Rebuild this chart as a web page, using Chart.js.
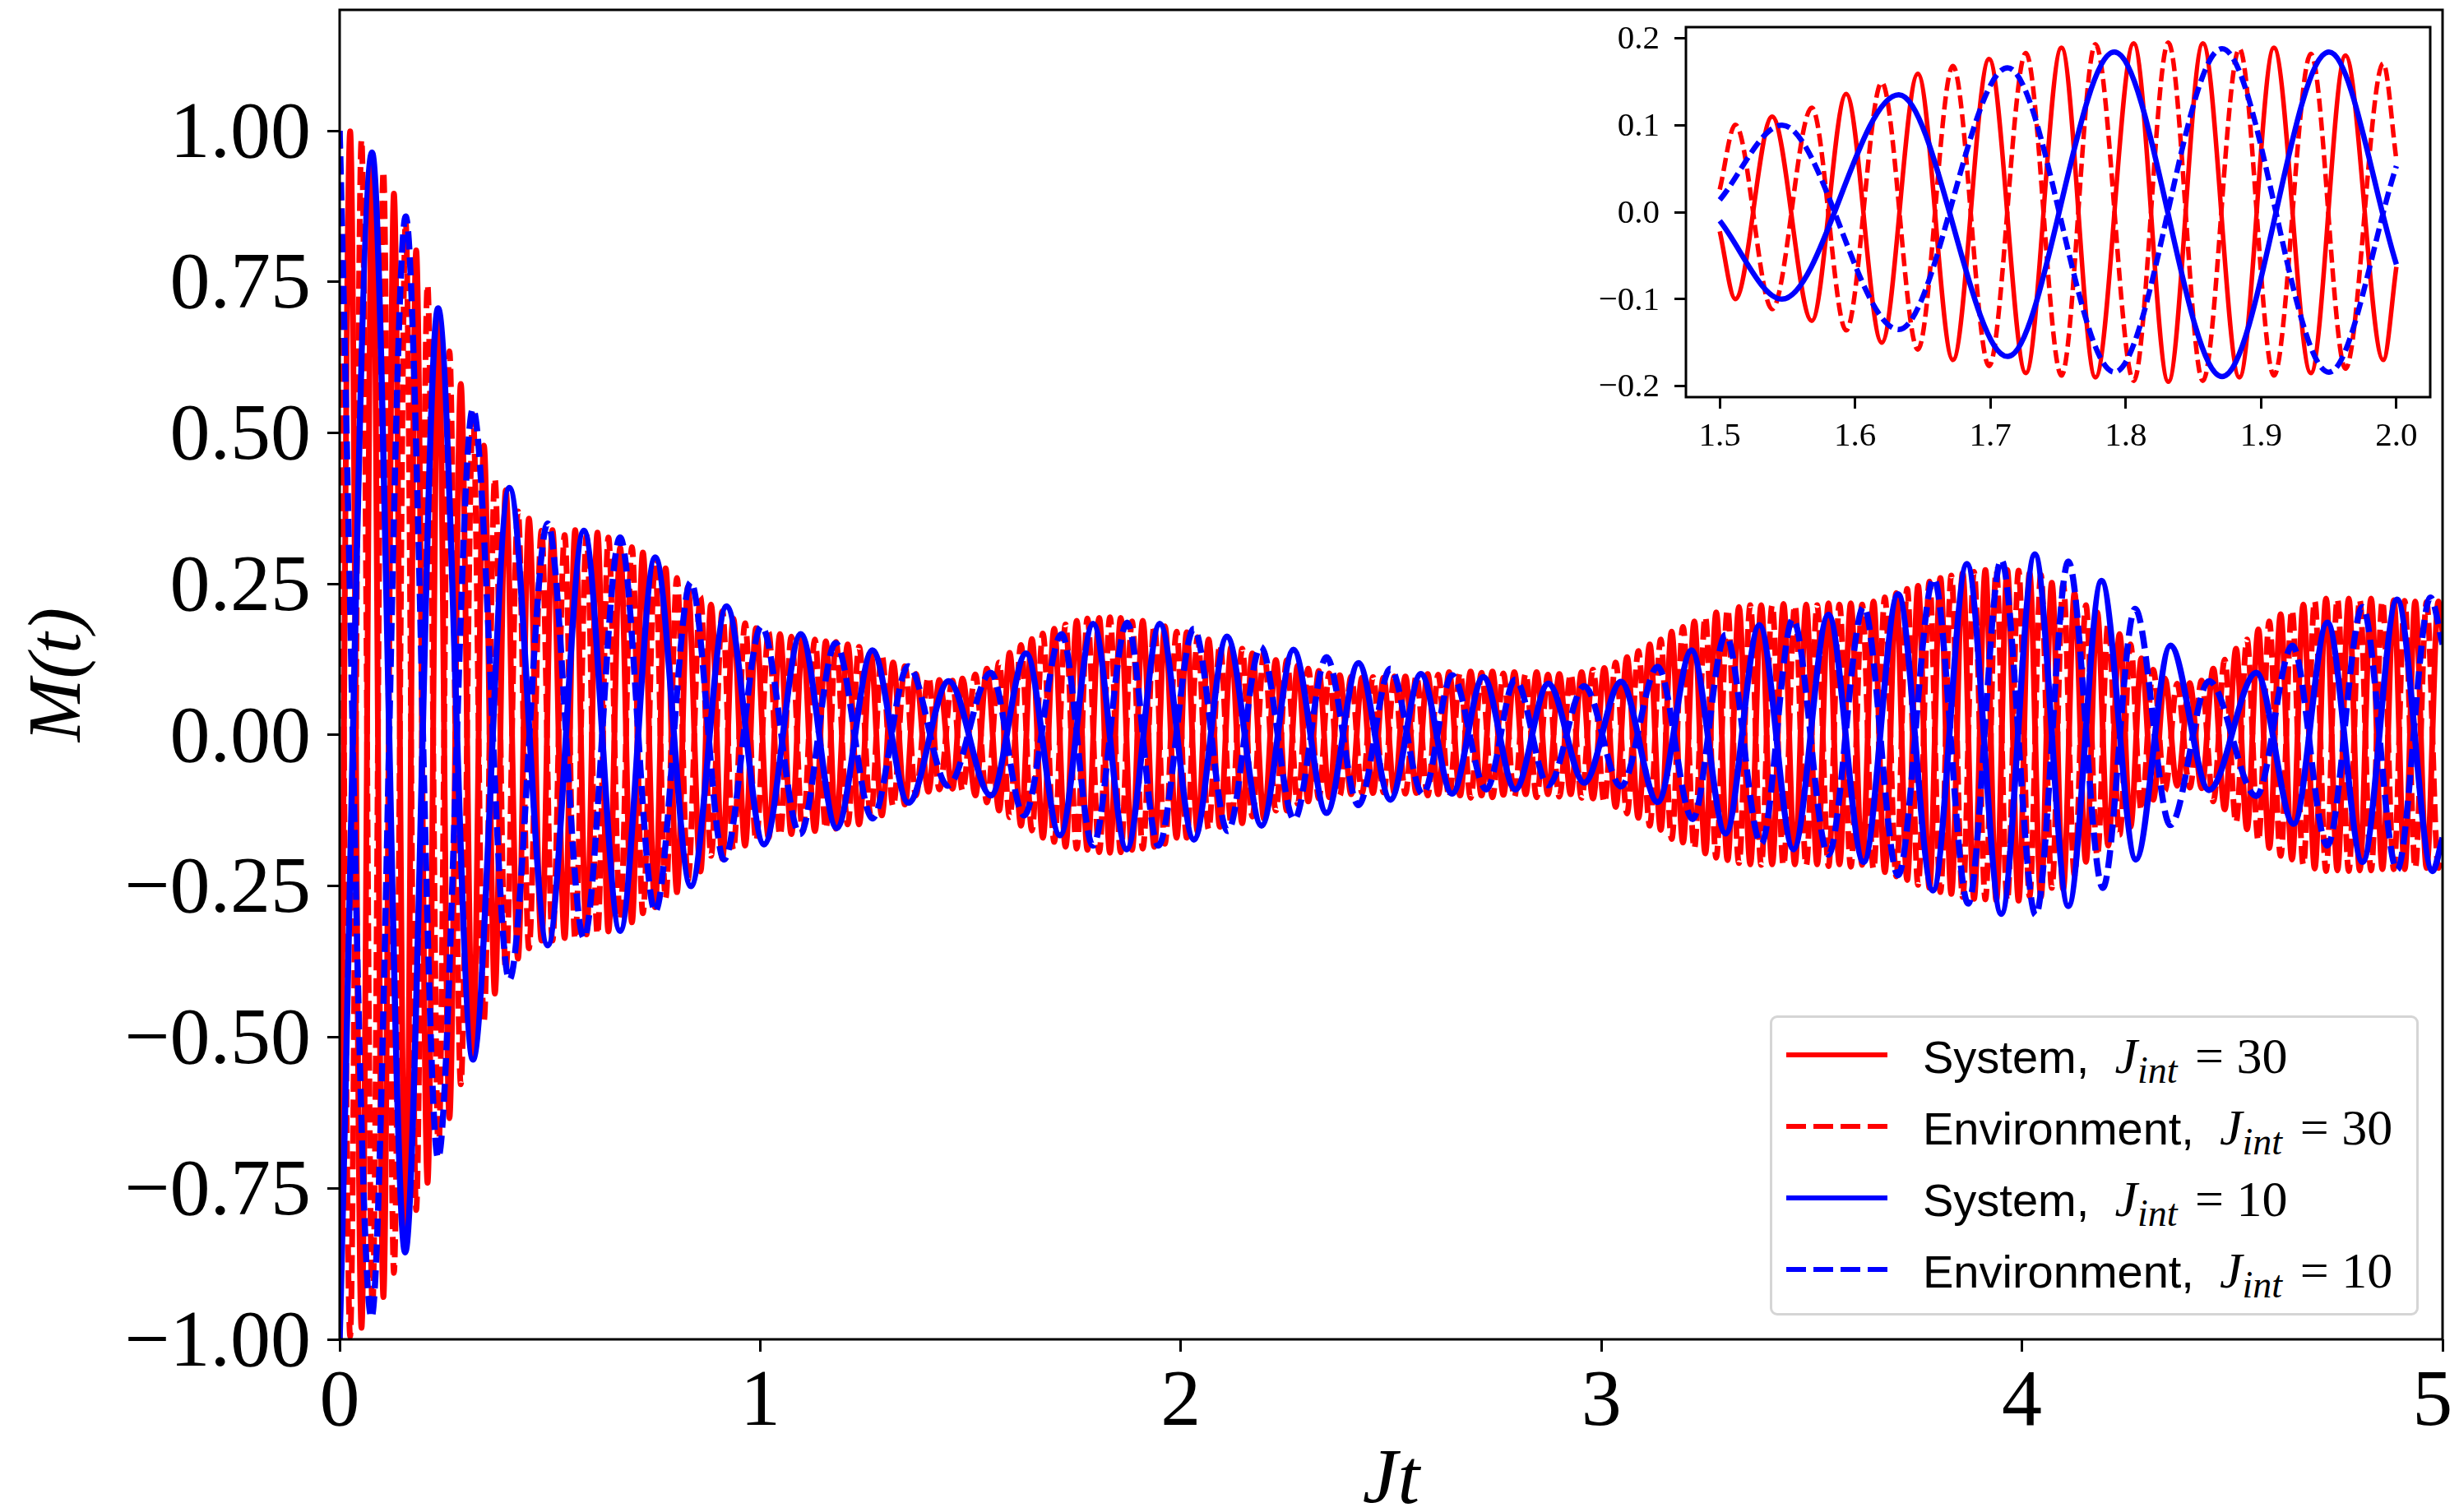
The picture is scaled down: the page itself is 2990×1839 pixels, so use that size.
<!DOCTYPE html>
<html><head><meta charset="utf-8">
<script src="https://cdn.jsdelivr.net/npm/chart.js@4"></script>
<style>
html,body{margin:0;padding:0;background:#fff;width:2990px;height:1839px;overflow:hidden}
canvas{position:absolute;display:block}
#legend{position:absolute;left:2152px;top:1235px;width:783px;height:359px;border:3px solid #d5d5d5;border-radius:9px;background:#fff}
.row{position:absolute;left:183px;font:56px "Liberation Sans",Arial,sans-serif;line-height:64px;white-space:nowrap;color:#000}
.row i{font-family:"Liberation Serif",serif;font-style:italic;font-size:62px}
.row sub{font-size:46px;line-height:0;vertical-align:-12px}
.row b{font-family:"Liberation Serif",serif;font-weight:normal;font-size:62px;margin-left:6px}
.sw{position:absolute;left:17px;width:123px;height:6px}
</style></head><body>
<canvas id="main" width="2990" height="1839" style="left:0;top:0;width:2990px;height:1839px"></canvas>
<canvas id="inset" width="1040" height="540" style="left:1930px;top:20px;width:1040px;height:540px"></canvas>
<div id="legend"></div>
<script>
// Main panel: extrema as [Jt, M(t)]
const redSystem=[[0,-1],[.025,.999],[.052,-.981],[.078,.955],[.104,-.93],[.129,.896],[.157,-.85],[.182,.802],[.209,-.741],[.235,.70],[.261,-.634],[.288,.581],[.317,-.53],[.343,.479],[.369,-.428],[.395,.405],[.424,-.37],[.450,.358],[.480,-.34],[.506,.339],[.535,-.336],[.560,.339],[.587,-.33],[.613,.335],[.639,-.325],[.667,.31],[.695,-.31],[.721,.302],[.750,-.285],[.775,.276],[.802,-.26],[.828,.245],[.858,-.226],[.883,.216],[.910,-.205],[.936,.193],[.964,-.183],[.990,.177],[1.020,-.17],[1.047,.167],[1.074,-.164],[1.101,.161],[1.130,-.159],[1.156,.155],[1.180,-.155],[1.208,.15],[1.235,-.148],[1.263,.135],[1.289,-.133],[1.316,.12],[1.344,-.115],[1.370,.101],[1.400,-.094],[1.426,.091],[1.457,-.089],[1.481,.0935],[1.5115,-.1],[1.539,.11],[1.568,-.125],[1.593,.136],[1.620,-.15],[1.646,.159],[1.672,-.17],[1.699,.176],[1.726,-.185],[1.7525,.189],[1.778,-.19],[1.806,.194],[1.8315,-.195],[1.857,.194],[1.884,-.19],[1.9095,.189],[1.937,-.185],[1.962,.18],[1.990,-.17],[2.014,.17],[2.040,-.16],[2.066,.158],[2.093,-.152],[2.120,.146],[2.146,-.146],[2.170,.135],[2.198,-.139],[2.226,.124],[2.252,-.125],[2.278,.115],[2.303,-.11],[2.328,.106],[2.353,-.103],[2.378,.099],[2.405,-.098],[2.431,.095],[2.457,-.096],[2.482,.095],[2.508,-.096],[2.534,.097],[2.560,-.096],[2.587,.101],[2.612,-.098],[2.638,.104],[2.664,-.1],[2.689,.105],[2.715,-.1],[2.741,.105],[2.767,-.099],[2.793,.104],[2.820,-.098],[2.846,.104],[2.873,-.098],[2.900,.101],[2.927,-.098],[2.953,.104],[2.980,-.105],[3.007,.111],[3.034,-.119],[3.061,.129],[3.088,-.137],[3.115,.15],[3.141,-.157],[3.167,.171],[3.194,-.178],[3.221,.188],[3.247,-.196],[3.273,.203],[3.300,-.207],[3.327,.212],[3.354,-.214],[3.380,.215],[3.406,-.214],[3.433,.217],[3.460,-.214],[3.487,.216],[3.513,-.214],[3.540,.218],[3.566,-.214],[3.593,.218],[3.620,-.215],[3.647,.221],[3.674,-.227],[3.701,.235],[3.727,-.24],[3.753,.247],[3.780,-.253],[3.806,.26],[3.832,-.263],[3.859,.268],[3.886,-.271],[3.913,.273],[3.939,-.274],[3.965,.273],[3.992,-.274],[4.018,.268],[4.045,-.268],[4.071,.252],[4.098,-.255],[4.125,.235],[4.152,-.21],[4.179,.203],[4.205,-.183],[4.232,.167],[4.258,-.152],[4.284,.127],[4.312,-.107],[4.340,.0935],[4.369,-.084],[4.399,.086],[4.427,-.088],[4.455,.11],[4.482,-.123],[4.509,.143],[4.535,-.156],[4.562,.175],[4.588,-.187],[4.615,.2],[4.642,-.206],[4.669,.216],[4.696,-.221],[4.723,.226],[4.750,-.224],[4.777,.226],[4.803,-.224],[4.830,.226],[4.857,-.222],[4.884,.223],[4.910,-.222],[4.935,.221],[4.962,-.22],[4.990,.221],[5,.17]];
const redEnvironment=[[0,1],[.025,-.995],[.052,.985],[.078,-.95],[.104,.933],[.129,-.89],[.157,.85],[.182,-.786],[.209,.745],[.235,-.69],[.261,.635],[.288,-.578],[.317,.53],[.343,-.474],[.369,.425],[.395,-.39],[.424,.37],[.450,-.353],[.480,.338],[.506,-.34],[.535,.331],[.560,-.338],[.587,.33],[.613,-.33],[.639,.327],[.667,-.305],[.695,.311],[.721,-.295],[.750,.285],[.775,-.27],[.802,.26],[.828,-.24],[.858,.229],[.883,-.2],[.910,.205],[.936,-.19],[.964,.185],[.990,-.175],[1.020,.17],[1.047,-.166],[1.074,.163],[1.101,-.16],[1.130,.158],[1.156,-.155],[1.180,.154],[1.208,-.148],[1.235,.146],[1.263,-.134],[1.289,.133],[1.316,-.118],[1.344,.114],[1.370,-.1],[1.400,.096],[1.426,-.09],[1.457,.09],[1.481,-.092],[1.5115,.1005],[1.539,-.1115],[1.568,.12],[1.593,-.136],[1.620,.149],[1.646,-.158],[1.672,.168],[1.699,-.177],[1.726,.183],[1.7525,-.188],[1.778,.193],[1.806,-.194],[1.8315,.195],[1.857,-.194],[1.884,.188],[1.9095,-.188],[1.937,.182],[1.962,-.18],[1.990,.171],[2.014,-.17],[2.040,.162],[2.066,-.156],[2.093,.15],[2.120,-.147],[2.146,.143],[2.170,-.135],[2.198,.137],[2.226,-.125],[2.252,.124],[2.278,-.114],[2.303,.11],[2.328,-.105],[2.353,.102],[2.378,-.1],[2.405,.097],[2.431,-.096],[2.457,.096],[2.482,-.095],[2.508,.097],[2.534,-.097],[2.560,.098],[2.587,-.1],[2.612,.1],[2.638,-.103],[2.664,.103],[2.689,-.104],[2.715,.103],[2.741,-.103],[2.767,.102],[2.793,-.103],[2.820,.102],[2.846,-.103],[2.873,.1],[2.900,-.102],[2.927,.101],[2.953,-.104],[2.980,.108],[3.007,-.112],[3.034,.12],[3.061,-.13],[3.088,.139],[3.115,-.15],[3.141,.158],[3.167,-.172],[3.194,.179],[3.221,-.188],[3.247,.196],[3.273,-.203],[3.300,.208],[3.327,-.212],[3.354,.215],[3.380,-.215],[3.406,.215],[3.433,-.216],[3.460,.215],[3.487,-.216],[3.513,.215],[3.540,-.217],[3.566,.216],[3.593,-.218],[3.620,.216],[3.647,-.222],[3.674,.228],[3.701,-.234],[3.727,.242],[3.753,-.248],[3.780,.254],[3.806,-.26],[3.832,.264],[3.859,-.268],[3.886,.27],[3.913,-.272],[3.939,.273],[3.965,-.274],[3.992,.272],[4.018,-.267],[4.045,.265],[4.071,-.253],[4.098,.25],[4.125,-.232],[4.152,.215],[4.179,-.2],[4.205,.185],[4.232,-.165],[4.258,.15],[4.284,-.125],[4.312,.108],[4.340,-.092],[4.369,.085],[4.399,-.087],[4.427,.09],[4.455,-.11],[4.482,.125],[4.509,-.145],[4.535,.158],[4.562,-.175],[4.588,.188],[4.615,-.2],[4.642,.207],[4.669,-.215],[4.696,.222],[4.723,-.225],[4.750,.225],[4.777,-.225],[4.803,.224],[4.830,-.224],[4.857,.222],[4.884,-.222],[4.910,.222],[4.935,-.22],[4.962,.22],[4.990,-.22],[5,-.17]];
const blueSystem=[[0,-1],[.0769,.964],[.1557,-.856],[.234,.706],[.3168,-.537],[.4035,.409],[.4947,-.348],[.5807,.338],[.6668,-.324],[.7503,.294],[.835,-.25],[.92,.213],[1.0091,-.181],[1.0963,.167],[1.1818,-.154],[1.2666,.14],[1.3522,-.112],[1.4481,.089],[1.5483,-.1],[1.6323,.135],[1.7127,-.166],[1.7916,.184],[1.8712,-.189],[1.9502,.184],[2.0311,-.173],[2.1097,.163],[2.192,-.15],[2.2678,.141],[2.3465,-.129],[2.4224,.119],[2.4984,-.107],[2.5708,.101],[2.6451,-.097],[2.7192,.096],[2.7952,-.09],[2.8738,.085],[2.9594,-.079],[3.0465,.088],[3.134,-.111],[3.2143,.14],[3.2955,-.163],[3.3757,.182],[3.4565,-.189],[3.5397,.199],[3.6235,-.21],[3.7054,.233],[3.7882,-.257],[3.8691,.283],[3.9508,-.296],[4.0306,.299],[4.1103,-.283],[4.1891,.255],[4.2709,-.206],[4.3528,.148],[4.4447,-.091],[4.5573,.103],[4.6461,-.147],[4.7261,.186],[4.8097,-.21],[4.8918,.224],[4.9763,-.225],[5,-.17]];
const blueEnvironment=[[0,1],[.0756,-.964],[.1571,.858],[.234,-.70],[.3168,.54],[.4035,-.405],[.4947,.35],[.5807,-.336],[.6668,.327],[.7503,-.292],[.835,.253],[.9139,-.206],[1.0029,.18],[1.0946,-.164],[1.1793,.152],[1.2666,-.138],[1.3522,.114],[1.4464,-.084],[1.5483,.103],[1.6271,-.133],[1.7168,.167],[1.7911,-.183],[1.8722,.186],[1.9465,-.183],[2.0311,.176],[2.1116,-.159],[2.19,.146],[2.2696,-.14],[2.3465,.129],[2.4224,-.116],[2.4984,.11],[2.5754,-.098],[2.6451,.099],[2.7264,-.09],[2.7952,.092],[2.8738,-.083],[2.9594,.081],[3.0465,-.085],[3.134,.113],[3.2169,-.139],[3.2955,.166],[3.38,-.18],[3.4552,.192],[3.5397,-.198],[3.6235,.212],[3.7054,-.232],[3.7902,.259],[3.8721,-.279],[3.9508,.29],[4.0327,-.298],[4.1103,.287],[4.1922,-.253],[4.2689,.209],[4.3528,-.149],[4.4447,.089],[4.5573,-.101],[4.6431,.148],[4.7261,-.183],[4.8097,.212],[4.8918,-.223],[4.9713,.2275],[5,.15]];
// Inset panel
const insetRedSystem=[[1.5,-.022],[1.5115,-.1],[1.5387,.11],[1.568,-.125],[1.5934,.136],[1.6197,-.15],[1.6464,.159],[1.6723,-.17],[1.699,.176],[1.7262,-.185],[1.7525,.189],[1.7776,-.19],[1.8059,.194],[1.8315,-.195],[1.857,.194],[1.884,-.19],[1.9095,.189],[1.9368,-.185],[1.9624,.18],[1.9903,-.17],[2,-.063]];
const insetRedEnvironment=[[1.5,.026],[1.5115,.1005],[1.5387,-.1115],[1.568,.12],[1.5934,-.136],[1.6197,.149],[1.6464,-.158],[1.6723,.168],[1.699,-.177],[1.7262,.183],[1.7525,-.188],[1.7776,.193],[1.8059,-.194],[1.8315,.195],[1.857,-.194],[1.884,.188],[1.9095,-.188],[1.9368,.182],[1.9624,-.18],[1.9903,.171],[2,.06]];
const insetBlueSystem=[[1.5,-.01],[1.546,-.1],[1.6323,.135],[1.7127,-.166],[1.7916,.184],[1.8712,-.189],[1.9502,.184],[2,-.06]];
const insetBlueEnvironment=[[1.5,.014],[1.546,.1],[1.6323,-.135],[1.7127,.166],[1.7916,-.184],[1.8712,.188],[1.9502,-.184],[2,.053]];
// Ticks and labels
const xTicks=[0,1,2,3,4,5];
const yTicks=[-1,-.75,-.5,-.25,0,.25,.5,.75,1];
const insetXTicks=[1.5,1.6,1.7,1.8,1.9,2.0];
const insetYTicks=[-.2,-.1,0,.1,.2];
const seriesLabels=['System, J_int = 30','Environment, J_int = 30','System, J_int = 10','Environment, J_int = 10'];
const seriesColors=['#ff0000','#ff0000','#0000ff','#0000ff'];
const legendNames=['System,','Environment,','System,','Environment,'];
const legendJ=['30','30','10','10'];

const serif='"Liberation Serif",serif';
const frame={id:'frame',afterDatasetsDraw(c,_,o){const a=c.chartArea,x=c.ctx;x.save();x.strokeStyle='#000';x.lineWidth=o.w;x.strokeRect(a.left,a.top,a.right-a.left,a.bottom-a.top);x.restore();}};
const fmt=d=>v=>(v<0?'\u2212':'')+Math.abs(v).toFixed(d);
function ds(i,pts,lw,dash){return{label:seriesLabels[i],data:pts.map(p=>({x:p[0],y:p[1]})),borderColor:seriesColors[i],backgroundColor:seriesColors[i],borderWidth:lw,borderDash:dash,borderCapStyle:'butt',borderJoinStyle:'round',pointRadius:0,fill:false,cubicInterpolationMode:'monotone',order:4-i};}
function axis(o){return{type:'linear',min:o.min,max:o.max,
  afterBuildTicks(s){s.ticks=o.ticks.map(v=>({value:v}));},
  afterFit(s){if(o.w)s.width=o.w;if(o.h)s.height=o.h;s.paddingLeft=s.paddingRight=s.paddingTop=s.paddingBottom=0;},
  border:{display:false},
  grid:{display:true,drawOnChartArea:false,drawTicks:true,tickLength:o.tl,tickWidth:o.tw,tickColor:'#000'},
  ticks:{autoSkip:false,maxRotation:0,minRotation:0,color:'#000',padding:o.pad,labelOffset:o.lo||0,font:{family:serif,size:o.fs,lineHeight:1},callback:o.cb},
  title:o.title||{display:false}};}
Chart.defaults.animation=false;
new Chart(document.getElementById('main'),{type:'line',plugins:[frame],
 data:{datasets:[ds(0,redSystem,7,[]),ds(1,redEnvironment,7,[22,9.5]),ds(2,blueSystem,7.5,[]),ds(3,blueEnvironment,7.5,[22,9.5])]},
 options:{responsive:false,devicePixelRatio:1,animation:false,parsing:false,normalized:true,
  layout:{padding:{top:12,right:20,left:0,bottom:0}},
  plugins:{legend:{display:false},tooltip:{enabled:false},title:{display:false},frame:{w:3}},
  scales:{
   x:axis({min:0,max:5,ticks:xTicks,h:210,tl:15,tw:3,pad:14,fs:98,cb:v=>v===5?'5\u00a0':String(v),
     title:{display:true,text:'Jt',color:'#000',font:{family:serif,size:96,style:'italic',lineHeight:.75},padding:{top:0,bottom:0}}}),
   y:axis({min:-1,max:1.2,ticks:yTicks,w:413,tl:15,tw:3,pad:20,fs:98,lo:6,cb:fmt(2),
     title:{display:true,text:'M(t)',color:'#000',font:{family:serif,size:92,style:'italic',lineHeight:1},padding:{top:27,bottom:0}}})
  }}});
new Chart(document.getElementById('inset'),{type:'line',plugins:[frame],
 data:{datasets:[ds(0,insetRedSystem,5.5,[]),ds(1,insetRedEnvironment,5.5,[16,7]),ds(2,insetBlueSystem,6.5,[]),ds(3,insetBlueEnvironment,6.5,[16,7])]},
 options:{responsive:false,devicePixelRatio:1,animation:false,parsing:false,
  layout:{padding:{top:13,right:15,left:0,bottom:0}},
  plugins:{legend:{display:false},tooltip:{enabled:false},title:{display:false},frame:{w:3}},
  scales:{
   x:axis({min:1.475,max:2.025,ticks:insetXTicks,h:77,tl:14,tw:3,pad:14,fs:41,cb:fmt(1)}),
   y:axis({min:-.2127,max:.2127,ticks:insetYTicks,w:120,tl:14,tw:3,pad:18,fs:41,lo:2,cb:fmt(1)})
  }}});
// Legend as real text
const lg=document.getElementById('legend');
const rowY=[45,132,219,306];
legendNames.forEach((n,i)=>{
  const sw=document.createElement('div');sw.className='sw';sw.style.top=(rowY[i]-3)+'px';
  sw.style.background=i%2?`repeating-linear-gradient(90deg,${seriesColors[i]} 0 24px,transparent 24px 33px)`:seriesColors[i];
  lg.appendChild(sw);
  const r=document.createElement('div');r.className='row';r.style.top=(rowY[i]-31)+'px';
  r.innerHTML=n+'&nbsp; <i>J<sub>int</sub></i> <b>= '+legendJ[i]+'</b>';
  lg.appendChild(r);
});
</script></body></html>
